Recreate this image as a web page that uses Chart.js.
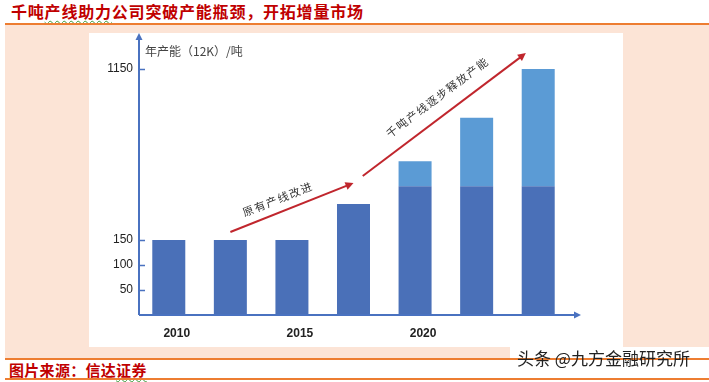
<!DOCTYPE html>
<html>
<head>
<meta charset="utf-8">
<script src="https://cdn.jsdelivr.net/npm/chart.js@4.4.0/dist/chart.umd.min.js"></script>
<style>
body { margin: 0; width: 709px; height: 382px; background: #fff; position: relative; overflow: hidden; font-family: "Noto Sans CJK SC", sans-serif; }
#title { position: absolute; left: 11px; top: 1px; font-size: 16px; font-weight: bold; color: #c00000; letter-spacing: 0.8px; line-height: 20px; white-space: nowrap; }
.wavy { text-decoration: underline wavy #3a9a3a; text-decoration-thickness: 1px; text-underline-offset: 2px; }
#band { position: absolute; left: 5px; top: 23px; width: 704px; height: 333px; background: #fce4d6; border-top: 2px solid #ed7d31; border-bottom: 2px solid #ed7d31; }
#panel { position: absolute; left: 89px; top: 33px; width: 534px; height: 314px; background: #fff; }
#patch { position: absolute; left: 510px; top: 347px; width: 199px; height: 11px; background: #fff; }
#mark { position: absolute; left: 517px; top: 348px; font-size: 17px; color: #222; line-height: 20px; white-space: nowrap; }
#source { position: absolute; left: 9px; top: 361px; font-size: 15px; font-weight: bold; color: #c00000; line-height: 18px; letter-spacing: 0.3px; white-space: nowrap; }
#foot { position: absolute; left: 5px; top: 378px; width: 704px; height: 2px; background: #ed7d31; }
</style>
</head>
<body>
<div id="title">千吨<span class="wavy">产线助力</span>公司突破产能瓶颈，开拓增量市场</div>
<div id="band"></div>
<div id="panel"><canvas id="capacity-chart" width="534" height="314"></canvas></div>
<div id="patch"></div>
<div id="mark">头条 @九方金融研究所</div>
<div id="source">图片来源：信达<span class="wavy">证券</span></div>
<div id="foot"></div>
<script>
const categories = ['2010', '', '2015', '', '2020', '', ''];
const baseCapacity = [150, 150, 150, 360, 465, 465, 465];
const newCapacity = [null, null, null, null, 145, 400, 685];
const yTicks = [50, 100, 150, 1150];
const yTitle = '年产能（12K）/吨';

// arrows drawn over the bars: [category index, value] at each end
const arrows = [
    { from: [1, 197], to: [3, 483], text: '原有产线改进', along: -10, perp: 13 },
    { from: [3.15, 524], to: [5.8, 1243], text: '千吨产线逐步释放产能', along: 5, perp: 18 }
];

// the value axis is broken above 150
const BREAK = 150;
const SQUEEZE = 0.342;
function toDisp(v) { return v <= BREAK ? v : BREAK + (v - BREAK) * SQUEEZE; }
function fromDisp(d) { return d <= BREAK ? d : BREAK + (d - BREAK) / SQUEEZE; }

class BrokenScale extends Chart.LinearScale {
    getPixelForValue(value) {
        const lo = toDisp(this.min), hi = toDisp(this.max);
        return this.getPixelForDecimal((toDisp(value) - lo) / (hi - lo));
    }
    getValueForPixel(pixel) {
        const lo = toDisp(this.min), hi = toDisp(this.max);
        return fromDisp(lo + this.getDecimalForPixel(pixel) * (hi - lo));
    }
}
BrokenScale.id = 'broken';
BrokenScale.defaults = Chart.LinearScale.defaults;
Chart.register(BrokenScale);

const axisColor = '#4a72c0';
const arrowColor = '#c0262d';

function arrowHead(ctx, x, y, angle, size) {
    ctx.save();
    ctx.translate(x, y);
    ctx.rotate(angle);
    ctx.beginPath();
    ctx.moveTo(0, 0);
    ctx.lineTo(-size, -size * 0.5);
    ctx.lineTo(-size, size * 0.5);
    ctx.closePath();
    ctx.fill();
    ctx.restore();
}

const decor = {
    id: 'decor',
    afterDraw(chart) {
        const ctx = chart.ctx;
        const area = chart.chartArea;
        const x = chart.scales.x, y = chart.scales.y;
        const ax = area.left + 1;

        ctx.save();
        // axes with arrows
        ctx.strokeStyle = axisColor;
        ctx.fillStyle = axisColor;
        ctx.lineWidth = 2;
        ctx.beginPath();
        ctx.moveTo(ax, area.bottom);
        ctx.lineTo(ax, area.top + 4);
        ctx.moveTo(ax, area.bottom);
        ctx.lineTo(area.right + 7, area.bottom);
        ctx.stroke();
        arrowHead(ctx, ax, area.top - 3, -Math.PI / 2, 7);
        arrowHead(ctx, area.right + 12, area.bottom, 0, 7);

        // tick marks on the inner side
        ctx.lineWidth = 1.5;
        ctx.beginPath();
        yTicks.forEach(v => {
            const py = Math.round(y.getPixelForValue(v)) + 0.5;
            ctx.moveTo(ax, py);
            ctx.lineTo(ax + 6, py);
        });
        ctx.stroke();

        // axis title
        ctx.fillStyle = '#444';
        ctx.font = '12px "Noto Sans CJK SC"';
        ctx.textBaseline = 'middle';
        ctx.textAlign = 'left';
        ctx.fillText(yTitle, area.left + 7, area.top + 15);

        // red trend arrows with their notes
        arrows.forEach(a => {
            const x1 = x.getPixelForValue(a.from[0]), y1 = y.getPixelForValue(a.from[1]);
            const x2 = x.getPixelForValue(a.to[0]), y2 = y.getPixelForValue(a.to[1]);
            const angle = Math.atan2(y2 - y1, x2 - x1);
            const ux = Math.cos(angle), uy = Math.sin(angle);
            ctx.strokeStyle = arrowColor;
            ctx.fillStyle = arrowColor;
            ctx.lineWidth = 2;
            ctx.beginPath();
            ctx.moveTo(x1, y1);
            ctx.lineTo(x2 - ux * 5, y2 - uy * 5);
            ctx.stroke();
            arrowHead(ctx, x2, y2, angle, 8);

            const mx = (x1 + x2) / 2 + a.along * ux + a.perp * uy;
            const my = (y1 + y2) / 2 + a.along * uy - a.perp * ux;
            ctx.save();
            ctx.translate(mx, my);
            ctx.rotate(angle);
            ctx.fillStyle = '#333';
            ctx.font = '11px "Noto Sans CJK SC"';
            ctx.letterSpacing = '1.5px';
            ctx.textAlign = 'center';
            ctx.textBaseline = 'middle';
            ctx.fillText(a.text, 0, 0);
            ctx.restore();
        });
        ctx.restore();
    }
};

const chart = new Chart(document.getElementById('capacity-chart').getContext('2d'), {
    type: 'bar',
    data: {
        labels: categories,
        datasets: [{
            label: 'base',
            data: baseCapacity,
            backgroundColor: '#4a70b8',
            barPercentage: 0.536,
            categoryPercentage: 1
        }, {
            label: 'new',
            data: newCapacity,
            backgroundColor: '#5b9bd5',
            barPercentage: 0.536,
            categoryPercentage: 1
        }]
    },
    options: {
        responsive: false,
        devicePixelRatio: 1,
        animation: false,
        layout: { padding: { top: 3, right: 54, left: 0, bottom: 0 } },
        plugins: { legend: { display: false }, tooltip: { enabled: false } },
        scales: {
            x: {
                stacked: true,
                grid: { display: false, drawTicks: false },
                border: { display: false },
                ticks: {
                    autoSkip: false,
                    maxRotation: 0,
                    padding: 11,
                    labelOffset: 8,
                    color: '#222',
                    font: { family: 'Liberation Sans', size: 12, weight: 'bold' }
                },
                afterFit: s => { s.height = 32; s.paddingLeft = 0; s.paddingRight = 0; }
            },
            y: {
                type: 'broken',
                stacked: true,
                min: 0,
                max: 1343,
                grid: { display: false, drawTicks: false },
                border: { display: false },
                ticks: {
                    padding: 5,
                    color: '#222',
                    font: { family: 'Liberation Sans', size: 12 },
                    callback: v => String(v)
                },
                afterBuildTicks: s => { s.ticks = yTicks.map(v => ({ value: v })); },
                afterFit: s => { s.width = 49; s.paddingTop = 0; s.paddingBottom = 0; }
            }
        }
    },
    plugins: [decor]
});
</script>
</body>
</html>
